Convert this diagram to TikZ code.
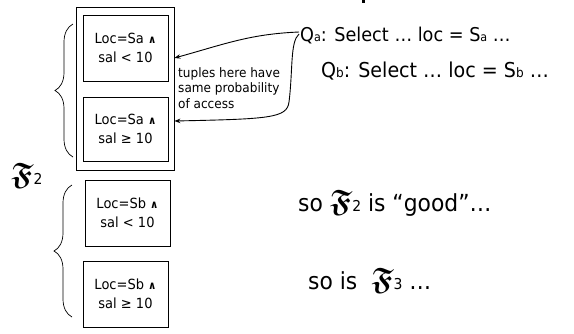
\documentclass[tikz,border=0pt]{standalone}
\usepackage{amsmath,amssymb,amsbsy}
\usepackage{fontspec}
\setmainfont{DejaVu Sans}[FakeStretch=0.93]
\usetikzlibrary{arrows.meta,decorations.pathreplacing}
\newcommand\sml[1]{{\fontsize{12}{12}\selectfont #1}}
\newcommand\smlb[1]{{\fontsize{13}{13}\selectfont #1}}
\newcommand\frk{\ensuremath{\boldsymbol{\mathfrak{F}}}}
\newcommand\bigF[1]{{\fontsize{31}{31}\selectfont\frk}{\fontsize{15}{15}\selectfont #1}}
\newcommand\wdg{{\fontsize{11}{11}\selectfont\bfseries ∧}}
\begin{document}
\begin{tikzpicture}[x=1pt,y=-1pt,
  box/.style={draw, line width=0.8pt, inner sep=0pt, align=center, font=\fontsize{14}{19}\selectfont},
  outerbox/.style={draw, line width=0.8pt, inner sep=0pt},
  arr/.style={line width=0.9pt, -{Stealth[length=6pt,width=4.5pt]}},
  brc/.style={decorate, decoration={brace, amplitude=18pt}, line width=0.7pt},
  main/.style={font=\fontsize{19}{23}\selectfont, inner sep=0pt, anchor=base west},
  mainb/.style={font=\fontsize{20.5}{24}\selectfont, inner sep=0pt, anchor=base west},
  big/.style={font=\fontsize{23.5}{27}\selectfont, inner sep=0pt, anchor=base west},
  note/.style={font=\fontsize{13}{15.5}\selectfont, inner sep=0pt, align=left, anchor=base west},
]
\useasboundingbox (0,0) rectangle (574,333);
\fill (362,0) rectangle (364.5,2.5);
% boxes
\node[outerbox, minimum width=98pt, minimum height=163pt] (outer) at (125,88.5) {};
\node[box, minimum width=85pt, minimum height=66pt] (b1) at (125.5,48) {Loc=Sa \wdg\\ sal < 10};
\node[box, minimum width=85pt, minimum height=64pt] (b2) at (125.5,129) {Loc=Sa \wdg\\ sal ≥ 10};
\node[box, minimum width=85pt, minimum height=66pt] (b3) at (127.5,213) {Loc=Sb \wdg\\ sal < 10};
\node[box, minimum width=85pt, minimum height=66pt] (b4) at (125.5,294) {Loc=Sb \wdg\\ sal ≥ 10};
% braces
\coordinate (br1a) at (73,157);
\coordinate (br1b) at (73,24);
\coordinate (br2a) at (72,317);
\coordinate (br2b) at (72,185);
\draw[brc] (br1a) -- (br1b);
\draw[brc] (br2a) -- (br2b);
% F2 label
\node[inner sep=0pt, anchor=base west] (f2) at (11,184) {\bigF{2}};
% queries
\node[main] (qa) at (300,41) {Q\sml{a}: Select … loc = S\sml{a} …};
\node[mainb] (qb) at (321,77) {Q\smlb{b}: Select … loc = S\smlb{b} …};
\node[note] (tup) at (178,108) {tuples here have\\same probability\\of access};
% arrows
\coordinate (s1) at (299,32);
\coordinate (s2) at (299,34);
\coordinate (e1) at (outer.east |- 0,58);
\coordinate (e2) at (outer.east |- 0,121);
\draw[arr] (s1) .. controls (250,34) and (225,44) .. (e1);
\draw[arr] (s2) .. controls (290,42) and (293,70) .. (289,102) .. controls (287,118) and (270,119) .. (e2);
% bottom texts
\node[big] (good) at (298,211) {so \bigF{2} is “good”…};
\node[big] (so3) at (308,289) {so is \ \bigF{3} …};
\end{tikzpicture}
\end{document}
